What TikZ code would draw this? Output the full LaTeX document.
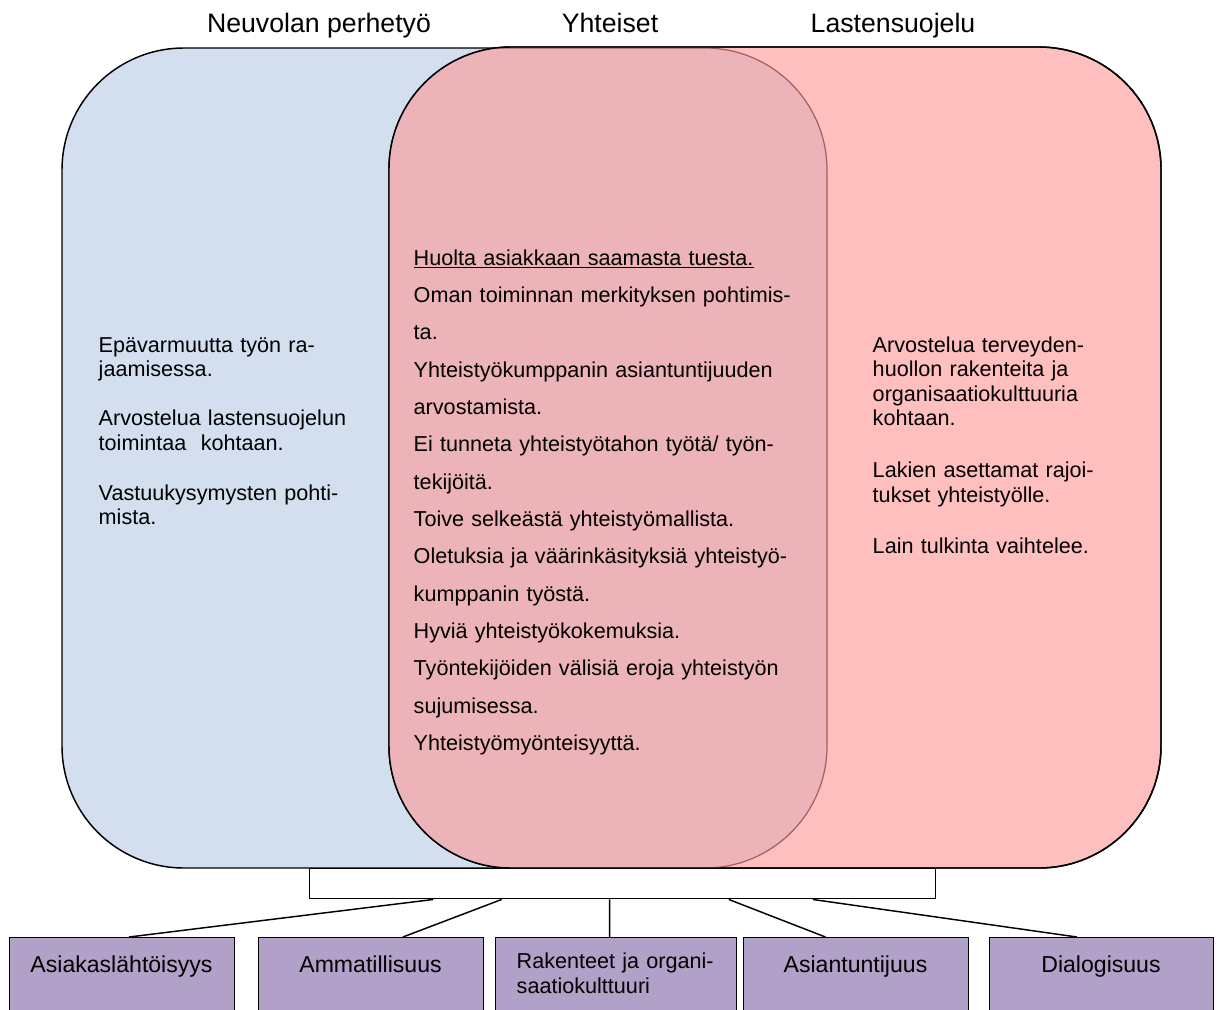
\documentclass[tikz,border=0pt]{standalone}
\usepackage{fontspec}
\setmainfont{Liberation Sans}
\usetikzlibrary{calc}
\newlength{\pxu}\setlength{\pxu}{0.75pt}
\definecolor{blueF}{HTML}{D3DFEE}
\definecolor{pinkF}{HTML}{FFBFBF}
\definecolor{overF}{HTML}{ECB3B8}
\definecolor{brownL}{HTML}{A0605F}
\definecolor{purpF}{HTML}{B1A0C7}
\begin{document}
\begin{tikzpicture}[x=0.75pt,y=-0.75pt,line width=1.1pt,
  hdr/.style={anchor=base,inner sep=0,font=\fontsize{20pt}{24pt}\selectfont},
  sidetext/.style={anchor=base west,inner sep=0,align=left,text width=#1,font=\fontsize{16.2pt}{18.4pt}\selectfont},
  midtext/.style={anchor=base west,inner sep=0,align=left,text width=#1,font=\fontsize{16.2pt}{28pt}\selectfont},
  catbox/.style={draw=black,fill=purpF,anchor=north west,inner sep=0,minimum height=80\pxu},
  catlabel/.style={anchor=base,inner sep=0,font=\fontsize{17.3pt}{20pt}\selectfont},
  barbox/.style={draw=black,fill=white,anchor=north west,inner sep=0,minimum width=626\pxu,minimum height=30\pxu},
  region/.style={rounded corners=91.5pt}]
\useasboundingbox (0,0) rectangle (1221,1010);
% regions
\path[region,fill=blueF,draw=black] (62,48) rectangle (827,868);
\path[region,fill=pinkF,draw=black] (389,47) rectangle (1161,868);
\begin{scope}
  \clip[region] (62,48) rectangle (827,868);
  \fill[region,overF] (389,47) rectangle (1161,868);
\end{scope}
\begin{scope}
  \clip[region] (389,47) rectangle (1161,868);
  \draw[region,brownL,line width=0.9pt] (62,48) rectangle (827,868);
\end{scope}
\draw[region,black] (389,47) rectangle (1161,868);
% headers
\node[hdr] (h1) at (319,32) {Neuvolan perhetyö};
\node[hdr] (h2) at (610,32) {Yhteiset};
\node[hdr] (h3) at (893,32) {Lastensuojelu};
% texts
\node[sidetext=290\pxu] (tL) at (98,352) {Epävarmuutta työn ra-\\jaamisessa.\\[18.4pt]
Arvostelua lastensuojelun\\toimintaa\ \ kohtaan.\\[19pt]
Vastuukysymysten pohti-\\mista.};
\node[midtext=420\pxu] (tM) at (413,265) {\underline{Huolta asiakkaan saamasta tuesta.}\\
Oman toiminnan merkityksen pohtimis-\\
ta.\\
Yhteistyökumppanin asiantuntijuuden\\
arvostamista.\\
Ei tunneta yhteistyötahon työtä/ työn-\\
tekijöitä.\\
Toive selkeästä yhteistyömallista.\\
Oletuksia ja väärinkäsityksiä yhteistyö-\\
kumppanin työstä.\\
Hyviä yhteistyökokemuksia.\\
Työntekijöiden välisiä eroja yhteistyön\\
sujumisessa.\\
Yhteistyömyönteisyyttä.};
\node[sidetext=280\pxu] (tR) at (872,352) {Arvostelua terveyden-\\huollon rakenteita ja\\organisaatiokulttuuria\\kohtaan.\\[20.5pt]
Lakien asettamat rajoi-\\tukset yhteistyölle.\\[20.5pt]
Lain tulkinta vaihtelee.};
% bar and categories
\node[barbox] (bar) at (309,868) {};
\node[catbox,minimum width=225\pxu] (b1) at (9,937) {};
\node[catbox,minimum width=225\pxu] (b2) at (258,937) {};
\node[catbox,minimum width=241\pxu] (b3) at (495,937) {};
\node[catbox,minimum width=225\pxu] (b4) at (743,937) {};
\node[catbox,minimum width=224\pxu] (b5) at (989,937) {};
\node[catlabel] (l1) at (121.5,972) {Asiakaslähtöisyys};
\node[catlabel] (l2) at (370.5,972) {Ammatillisuus};
\node[anchor=base west,inner sep=0,align=left,text width=220\pxu,font=\fontsize{16.2pt}{18.75pt}\selectfont] (l3) at (516,968) {Rakenteet ja organi-\\saatiokulttuuri};
\node[catlabel] (l4) at (855.5,972) {Asiantuntijuus};
\node[catlabel] (l5) at (1101,972) {Dialogisuus};
% connectors
\draw ($(bar.south west)!0.198!(bar.south east)$) -- ($(b1.north west)!0.53!(b1.north east)$);
\draw ($(bar.south west)!0.307!(bar.south east)$) -- ($(b2.north west)!0.64!(b2.north east)$);
\draw ($(bar.south west)!0.479!(bar.south east)$) -- ($(b3.north west)!0.473!(b3.north east)$);
\draw ($(bar.south west)!0.669!(bar.south east)$) -- ($(b4.north west)!0.364!(b4.north east)$);
\draw ($(bar.south west)!0.803!(bar.south east)$) -- ($(b5.north west)!0.39!(b5.north east)$);
\end{tikzpicture}
\end{document}
